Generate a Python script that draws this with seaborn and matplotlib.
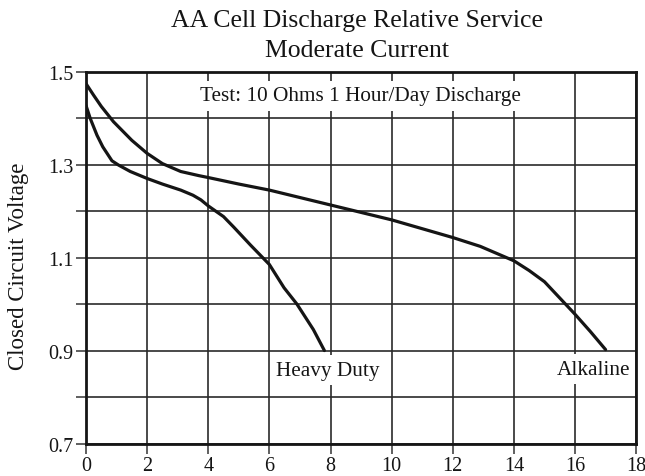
import matplotlib
matplotlib.use("Agg")
import matplotlib.pyplot as plt
import seaborn as sns
import pandas as pd

# Discharge service hours (x) and closed-circuit voltage (y)
alkaline_hours = [0, 0.25, 0.5, 0.9, 1.5, 2, 2.5, 3.1, 3.7, 4, 5, 6, 7, 8,
                  9, 10, 11, 12, 12.9, 14, 14.5, 15, 15.6, 16, 16.5, 17]
alkaline_volts = [1.474, 1.449, 1.425, 1.392, 1.352, 1.324, 1.302, 1.285,
                  1.276, 1.272, 1.258, 1.245, 1.229, 1.213, 1.197, 1.181,
                  1.162, 1.143, 1.124, 1.093, 1.072, 1.048, 1.006, 0.978,
                  0.941, 0.902]

heavy_hours = [0, 0.14, 0.36, 0.55, 0.69, 0.85, 1.06, 1.45, 2, 2.5, 3.1,
               3.5, 3.76, 4, 4.5, 4.84, 5.38, 6, 6.48, 6.9, 7.44, 7.8]
heavy_volts = [1.427, 1.399, 1.363, 1.338, 1.324, 1.308, 1.299, 1.285,
               1.270, 1.258, 1.245, 1.234, 1.224, 1.211, 1.188, 1.165,
               1.127, 1.085, 1.035, 1.000, 0.945, 0.900]

x_ticks = [0, 2, 4, 6, 8, 10, 12, 14, 16, 18]
y_ticks = [0.7, 0.8, 0.9, 1.0, 1.1, 1.2, 1.3, 1.4, 1.5]
y_tick_labels = ["0.7", "", "0.9", "", "1.1", "", "1.3", "", "1.5"]

title = "AA Cell Discharge Relative Service\nModerate Current"
test_note = "Test: 10 Ohms 1 Hour/Day Discharge"

sns.set_theme(style="white")
plt.rcParams["font.family"] = ["Liberation Serif", "DejaVu Serif"]

df_alk = pd.DataFrame({"hours": alkaline_hours, "volts": alkaline_volts})
df_hd = pd.DataFrame({"hours": heavy_hours, "volts": heavy_volts})

ink = "#151515"

fig = plt.figure(figsize=(6.45, 4.77), dpi=100)
ax = fig.add_axes([0.1333, 0.068, 0.853, 0.780])

sns.lineplot(data=df_alk, x="hours", y="volts", ax=ax, color=ink,
             linewidth=2.3, sort=False, zorder=4)
sns.lineplot(data=df_hd, x="hours", y="volts", ax=ax, color=ink,
             linewidth=2.3, sort=False, zorder=4)

ax.set_xlim(0, 18)
ax.set_ylim(0.7, 1.5)
ax.set_xticks(x_ticks)
ax.set_xticklabels([str(t) for t in x_ticks])
ax.set_yticks(y_ticks)
ax.set_yticklabels(y_tick_labels)
ax.tick_params(axis="both", direction="out", length=7, width=1.2,
               colors="#444444", labelsize=14.5, pad=2,
               labelcolor=ink, bottom=True, left=True)
ax.set_axisbelow(True)
ax.grid(True, color="#2a2a2a", linewidth=1.2)
for side in ax.spines.values():
    side.set_color(ink)
    side.set_linewidth(2.0)

ax.set_xlabel("")
ax.set_ylabel("Closed Circuit Voltage", fontsize=16.5, color=ink)
ax.yaxis.set_label_coords(-0.104, 0.478)
fig.suptitle(title, x=0.553, y=0.978, fontsize=18.5, color=ink,
             linespacing=1.45)

box = dict(boxstyle="square,pad=0.25", facecolor="white", edgecolor="none")
ax.text(8.98, 1.448, test_note, ha="center", va="center", fontsize=15.3,
        color=ink, bbox=box, zorder=2.2)
ax.text(7.9, 0.858, "Heavy Duty", ha="center", va="center", fontsize=15.3,
        color=ink, bbox=box, zorder=2.2)
ax.text(16.6, 0.86, "Alkaline", ha="center", va="center", fontsize=15.3,
        color=ink, bbox=box, zorder=2.2)

fig.savefig("out.png", dpi=100)
